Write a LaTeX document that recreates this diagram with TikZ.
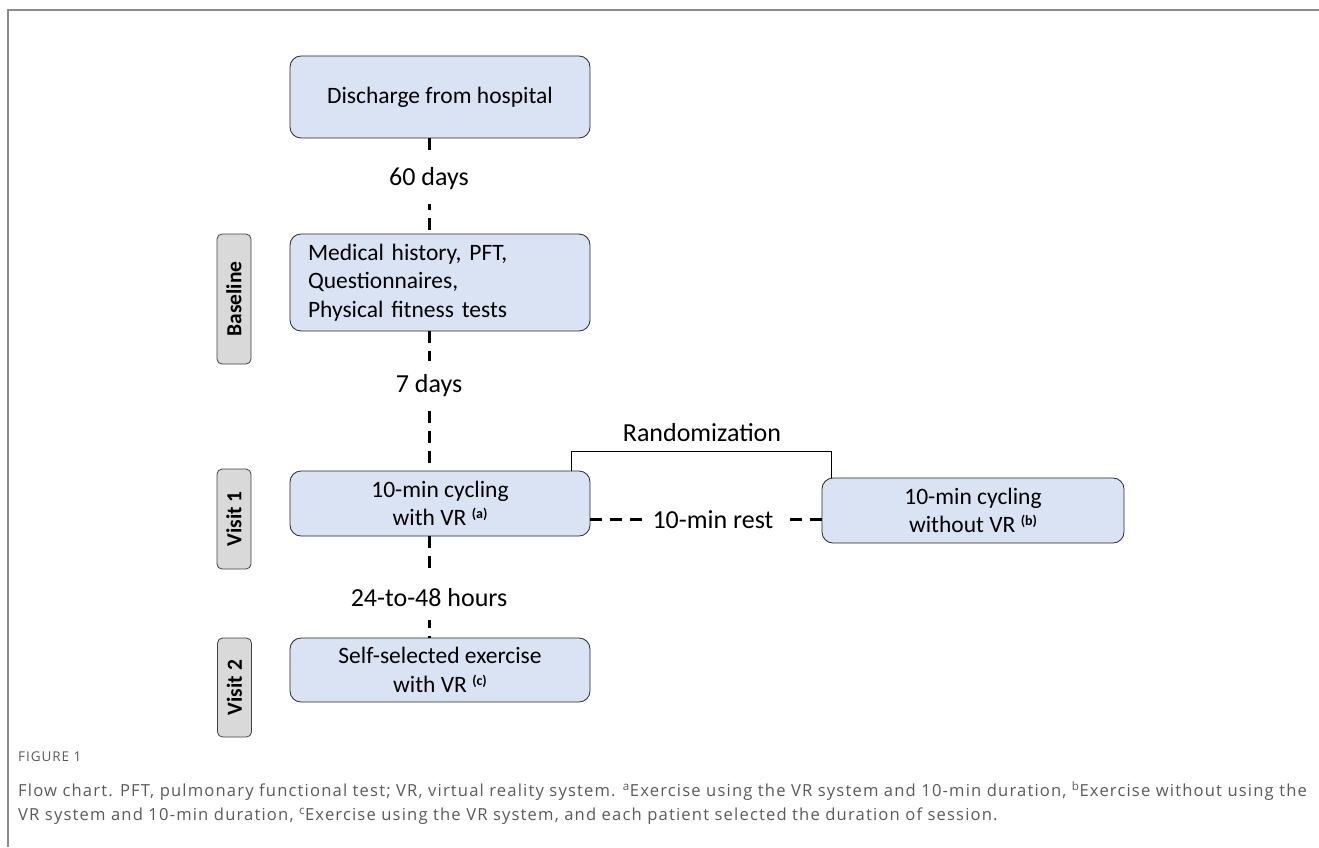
\documentclass[tikz,border=0pt]{standalone}
\usepackage{fontspec}
\setmainfont{Carlito}
\newfontfamily\capfont[LetterSpace=7]{Open Sans}
\definecolor{boxblue}{HTML}{DAE3F3}
\definecolor{tabgray}{HTML}{D9D9D9}
\definecolor{framegray}{HTML}{8C8C8C}
\definecolor{capgray}{HTML}{5A5A5A}
\tikzset{
	stagebox/.style={draw=black!85, fill=boxblue, rounded corners=11pt, line width=0.8pt, minimum width=300pt, align=center, inner sep=0pt, font=\fontsize{23.5}{28.5}\selectfont},
	phasetab/.style={draw=black!75, fill=tabgray, rounded corners=5pt, line width=0.8pt, rotate=90, minimum height=34pt, inner sep=0pt, font=\bfseries\fontsize{21.5}{23}\selectfont},
	link/.style={line width=3pt, dash pattern=on 12pt off 8pt},
	gaplabel/.style={fill=white, inner xsep=8pt, inner ysep=14pt, font=\fontsize{26}{30}\selectfont},
	bracket/.style={line width=0.8pt}
}
\newcommand{\vrmark}[1]{\raisebox{7pt}{\fontsize{14}{14}\selectfont\bfseries(#1)}}
\begin{document}
\begin{tikzpicture}[x=1pt,y=-1pt]
			\useasboundingbox (0,0) rectangle (1319,847);
			\draw[framegray, line width=2pt] (8,847) -- (8,10) -- (1319,10);
			\node[stagebox, minimum height=82pt] (discharge) at (440,97) {Discharge from hospital};
			\node[stagebox, minimum height=97pt, align=left, text width=264pt] (baseline) at (440,282.5) {Medical history, PFT,\\Questionnaires,\\Physical fitness tests};
			\node[stagebox, minimum height=65pt] (visit1) at (440,503.5) {10-min cycling\\with VR \vrmark{a}};
			\node[stagebox, minimum height=65pt, minimum width=302pt] (novr) at (973,510.5) {10-min cycling\\without VR \vrmark{b}};
			\node[stagebox, minimum height=64pt] (visit2) at (440,670) {Self-selected exercise\\with VR \vrmark{c}};
			\node[phasetab, minimum width=130pt] (tabbase) at (234,299) {Baseline};
			\node[phasetab, minimum width=100pt] (tabvisit1) at (234,519) {Visit 1};
			\node[phasetab, minimum width=99pt] (tabvisit2) at (234.5,687.5) {Visit 2};
			\coordinate (spine) at (429,0);
			\draw[link] (discharge.south -| spine) -- node[gaplabel, pos=0.42] {60 days} (baseline.north -| spine);
			\draw[link] (baseline.south -| spine) -- node[gaplabel, pos=0.39] {7 days} (visit1.north -| spine);
			\draw[link] (visit1.south -| spine) -- node[gaplabel, pos=0.6] {24-to-48 hours} (visit2.north -| spine);
			\draw[link] ([yshift=-16pt]visit1.east) -- node[gaplabel, pos=0.53, inner xsep=10.5pt] {10-min rest} ([yshift=-16pt]visit1.east -| novr.west);
			\node[font=\fontsize{26}{30}\selectfont] (rand) at (702,433) {Randomization};
			\coordinate (randL) at ([xshift=-19pt]visit1.north east);
			\coordinate (randR) at ([xshift=10pt]novr.north west);
			\coordinate (randtop) at (0,451);
			\draw[bracket] (randL) -- (randL |- randtop) -- (randR |- randtop) -- (randR);
			\node[anchor=west, inner sep=0pt, text=capgray, font=\capfont\fontsize{13.5}{15}\selectfont] (figlabel) at (18,757) {FIGURE 1};
			\node[anchor=north west, align=left, inner sep=0pt, text=capgray, font=\capfont\fontsize{16.6}{24}\selectfont] (caption) at (18,781) {Flow chart. PFT, pulmonary functional test; VR, virtual reality system. \textsuperscript{a}Exercise using the VR system and 10-min duration, \textsuperscript{b}Exercise without using the\\VR system and 10-min duration, \textsuperscript{c}Exercise using the VR system, and each patient selected the duration of session.};
		\end{tikzpicture}
\end{document}
